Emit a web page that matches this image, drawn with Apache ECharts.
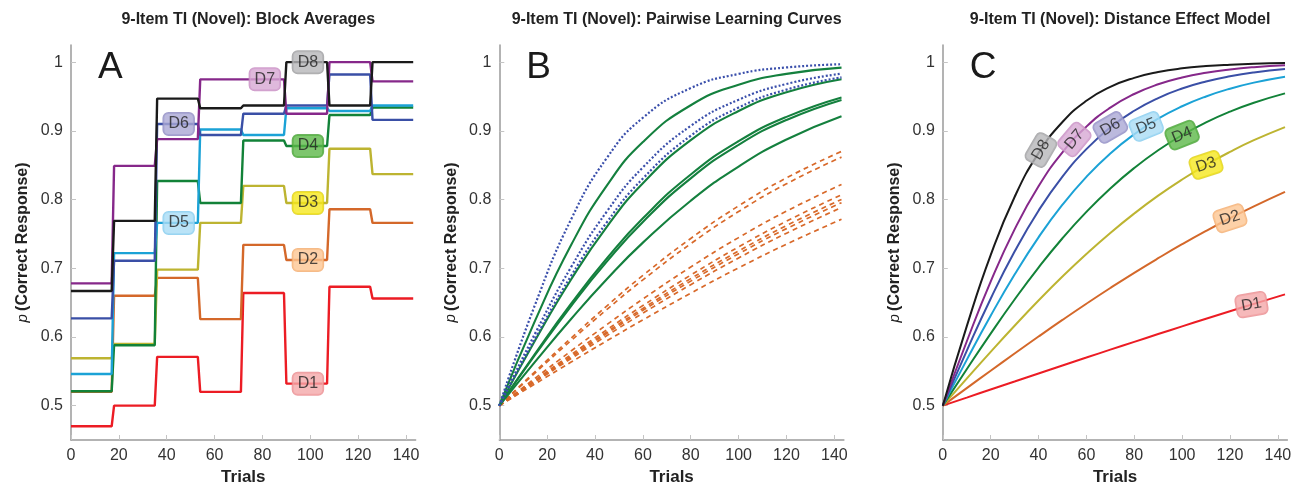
<!DOCTYPE html>
<html><head><meta charset="utf-8">
<script src="https://cdn.jsdelivr.net/npm/echarts@6/dist/echarts.min.js"></script>
<style>html,body{margin:0;padding:0;background:#fff}#c{width:1297px;height:493px}</style>
</head><body><div id="c"></div>
<script>
// ---------- DATA ----------
const panelTitles = ['9-Item TI (Novel): Block Averages','9-Item TI (Novel): Pairwise Learning Curves','9-Item TI (Novel): Distance Effect Model'];
const panelLetters = ['A','B','C'];
const distNames = ['D1','D2','D3','D4','D5','D6','D7','D8'];
const xTicks = [0,20,40,60,80,100,120,140];
const yTicks = [0.5,0.6,0.7,0.8,0.9,1];
const yTickLabels = ['0.5','0.6','0.7','0.8','0.9','1'];

// Panel A: block averages (blocks of 18 trials)
const blockStarts = [0,18,36,54,72,90,108,126];
const lastTrial = 143;
const blockD1 = [0.470,0.500,0.571,0.520,0.664,0.532,0.673,0.656];
const blockD2 = [0.520,0.660,0.686,0.626,0.734,0.712,0.786,0.766];
const blockD3 = [0.569,0.590,0.698,0.766,0.820,0.795,0.874,0.837];
const blockD4 = [0.521,0.588,0.827,0.795,0.886,0.878,0.923,0.934];
const blockD5 = [0.546,0.722,0.766,0.902,0.894,0.933,0.929,0.937];
const blockD6 = [0.627,0.711,0.910,0.894,0.925,0.937,0.982,0.916];
const blockD7 = [0.678,0.849,0.888,0.975,0.975,0.925,1.000,0.972];
const blockD8 = [0.667,0.769,0.947,0.933,0.937,1.000,0.937,1.000];
const labelTrialA = [99,99,99,99,45,45,81,99];
const labelValA   = [0.532,0.712,0.795,0.878,0.766,0.910,0.975,1.000];

// Panel B: pairwise learning curves
const trialsB = [0,15,30,45,60,80,100,120,143];
const pairBlue1 = [0.5,0.6474,0.7712,0.8609,0.9191,0.9623,0.9829,0.9923,0.9970];
const pairBlue2 = [0.5,0.6053,0.7016,0.7829,0.8468,0.9072,0.9453,0.9683,0.9833];
const pairBlue3 = [0.5,0.5981,0.6889,0.7672,0.8306,0.8929,0.9340,0.9601,0.9779];
const pairGreen1 = [0.5,0.6241,0.7338,0.8207,0.8837,0.9373,0.9671,0.9830,0.9921];
const pairGreen2 = [0.5,0.5952,0.6837,0.7607,0.8238,0.8865,0.9289,0.9562,0.9752];
const pairGreen3 = [0.5,0.5759,0.6484,0.7146,0.7728,0.8365,0.8850,0.9204,0.9487];
const pairGreen4 = [0.5,0.5741,0.6450,0.7100,0.7675,0.8309,0.8797,0.9159,0.9451];
const pairGreen5 = [0.5,0.5641,0.6262,0.6844,0.7373,0.7983,0.8481,0.8874,0.9212];
const pairOrange1 = [0.5,0.5497,0.5984,0.6453,0.6896,0.7434,0.7908,0.8315,0.8701];
const pairOrange2 = [0.5,0.5479,0.5948,0.6402,0.6831,0.7357,0.7825,0.8229,0.8618];
const pairOrange3 = [0.5,0.5400,0.5796,0.6181,0.6552,0.7018,0.7446,0.7831,0.8220];
const pairOrange4 = [0.5,0.5374,0.5744,0.6106,0.6457,0.6900,0.7311,0.7685,0.8069];
const pairOrange5 = [0.5,0.5363,0.5722,0.6074,0.6415,0.6849,0.7251,0.7621,0.8002];
const pairOrange6 = [0.5,0.5356,0.5708,0.6053,0.6388,0.6813,0.7211,0.7577,0.7955];
const pairOrange7 = [0.5,0.5345,0.5686,0.6020,0.6346,0.6761,0.7150,0.7510,0.7884];
const pairOrange8 = [0.5,0.5318,0.5634,0.5945,0.6248,0.6637,0.7006,0.7350,0.7713];

// Panel C: distance effect model
const trialsC = [0,10,20,30,40,50,60,70,80,90,100,110,120,130,143];
const modelD1 = [0.5,0.5117,0.5235,0.5352,0.5469,0.5585,0.5700,0.5815,0.5929,0.6042,0.6154,0.6265,0.6374,0.6482,0.6620];
const modelD2 = [0.5,0.5255,0.5508,0.5759,0.6006,0.6248,0.6484,0.6713,0.6934,0.7146,0.7350,0.7544,0.7728,0.7902,0.8113];
const modelD3 = [0.5,0.5394,0.5783,0.6163,0.6530,0.6879,0.7207,0.7514,0.7797,0.8057,0.8292,0.8504,0.8694,0.8864,0.9055];
const modelD4 = [0.5,0.5530,0.6049,0.6545,0.7010,0.7437,0.7821,0.8162,0.8460,0.8718,0.8938,0.9124,0.9280,0.9410,0.9546];
const modelD5 = [0.5,0.5666,0.6309,0.6908,0.7450,0.7925,0.8331,0.8672,0.8951,0.9178,0.9358,0.9501,0.9614,0.9702,0.9788];
const modelD6 = [0.5,0.5798,0.6557,0.7243,0.7838,0.8334,0.8734,0.9050,0.9293,0.9478,0.9616,0.9718,0.9794,0.9850,0.9901];
const modelD7 = [0.5,0.5934,0.6805,0.7566,0.8193,0.8687,0.9062,0.9338,0.9537,0.9678,0.9777,0.9846,0.9894,0.9927,0.9955];
const modelD8 = [0.5,0.6154,0.7191,0.8038,0.8676,0.9129,0.9438,0.9641,0.9772,0.9856,0.9910,0.9943,0.9964,0.9978,0.9988];
const labelTrialC = [129,120,110,100,85,70,55,41];
const labelRotC = [10,18,18,22,22,30,50,60];

// ---------- STYLE ----------
const lineColors = ['#ec1c24','#d4682a','#bdb431','#128238','#1ba2d6','#3a4fa6','#86288a','#1a1a1a'];
const labelFill = ['#f4a7a9','#fcc692','#f5e71f','#5cb849','#a9dcf5','#aaa7d5','#d7a7d3','#b7b7b9'];
const labelBorder = ['#e88a8d','#f2aa6c','#dccd12','#47a036','#80c9ee','#8b87c0','#c58ac0','#9a9a9c'];
const blueC = '#3a4fab', greenC = '#14803e', orangeC = '#d8692a';

const blocksA = [blockD1,blockD2,blockD3,blockD4,blockD5,blockD6,blockD7,blockD8];
const modelsC = [modelD1,modelD2,modelD3,modelD4,modelD5,modelD6,modelD7,modelD8];
const blueB = [pairBlue1,pairBlue2,pairBlue3];
const greenB = [pairGreen1,pairGreen2,pairGreen3,pairGreen4,pairGreen5];
const orangeB = [pairOrange1,pairOrange2,pairOrange3,pairOrange4,pairOrange5,pairOrange6,pairOrange7,pairOrange8];

const FONT = 'Liberation Sans, Arial, Helvetica, sans-serif';
const gridLefts = [71, 499.3, 942.8];
const GW = 344.6, GT = 45, GH = 395;

function stepPoints(vals){
  const pts = [];
  for (let i=0;i<vals.length;i++){
    const s = blockStarts[i];
    const e = i < vals.length-1 ? blockStarts[i+1]-1 : lastTrial;
    pts.push([s, vals[i]], [e, vals[i]]);
  }
  return pts;
}
function zip(xs, ys){ return xs.map((x,i)=>[x, ys[i]]); }

const grids = [], xAxes = [], yAxes = [], series = [], titles = [];
for (let p=0;p<3;p++){
  grids.push({left:gridLefts[p], top:GT, width:GW, height:GH});
  xAxes.push({
    type:'value', gridIndex:p, min:0, max:144,
    name:'Trials', nameLocation:'middle', nameGap:27,
    nameTextStyle:{fontFamily:FONT, fontWeight:'bold', fontSize:17, color:'#222'},
    axisLine:{lineStyle:{color:'#9a9a9a', width:1.5}},
    axisTick:{inside:true, length:5, lineStyle:{color:'#c4c4c4', width:1}, customValues:xTicks},
    axisLabel:{customValues:xTicks, fontFamily:FONT, fontSize:16, color:'#333', margin:8},
    splitLine:{show:false}
  });
  yAxes.push({
    type:'value', gridIndex:p, min:0.45, max:1.025,
    name:'{it|p} {b|(Correct Response)}', nameLocation:'middle', nameGap:40, nameRotate:90,
    nameTextStyle:{rich:{
      it:{fontFamily:FONT, fontStyle:'italic', fontSize:15, color:'#222'},
      b:{fontFamily:FONT, fontWeight:'bold', fontSize:16, color:'#222'}
    }},
    axisLine:{show:true, lineStyle:{color:'#9a9a9a', width:1.5}},
    axisTick:{show:true, inside:true, length:5, lineStyle:{color:'#c4c4c4', width:1}, customValues:yTicks},
    axisLabel:{customValues:yTicks, fontFamily:FONT, fontSize:16, color:'#333', margin:8,
      formatter:(v)=>{const i=yTicks.findIndex(t=>Math.abs(t-v)<1e-6); return i>=0?yTickLabels[i]:'';}},
    splitLine:{show:false}
  });
  titles.push({text:panelTitles[p], left:gridLefts[p]+GW/2, top:7, textAlign:'center',
    textStyle:{fontFamily:FONT, fontWeight:'bold', fontSize:16, color:'#222'}});
  titles.push({text:panelLetters[p], left:gridLefts[p]+22, top:44,
    textStyle:{fontFamily:FONT, fontWeight:'normal', fontSize:37, color:'#1a1a1a'}});
}

// Panel A series
blocksA.forEach((vals,i)=>{
  series.push({type:'line', xAxisIndex:0, yAxisIndex:0, data:stepPoints(vals), showSymbol:false, symbol:'none',
    lineStyle:{color:lineColors[i], width:2.4}, silent:true, animation:false, z:2});
});
function labelItem(i, x, y, rot){
  return {value:[x,y], name:distNames[i], label:{
    show:true, position:'inside', formatter:'{b}', rotate:rot||0,
    fontFamily:FONT, fontSize:16, color:'#222', lineHeight:17,
    backgroundColor:labelFill[i], borderColor:labelBorder[i], borderWidth:1, borderRadius:5,
    padding:[3,5,2,5]
  }};
}
series.push({type:'scatter', xAxisIndex:0, yAxisIndex:0, symbolSize:0, silent:true, animation:false, z:10,
  data: distNames.map((n,i)=>labelItem(i, labelTrialA[i], labelValA[i], 0))});

// Panel B series
const SM = 0.5;
orangeB.forEach(v=>series.push({type:'line', xAxisIndex:1, yAxisIndex:1, data:zip(trialsB,v), smooth:SM,
  showSymbol:false, symbol:'none', lineStyle:{color:orangeC, width:1.7, type:[5,4]}, silent:true, animation:false}));
greenB.forEach(v=>series.push({type:'line', xAxisIndex:1, yAxisIndex:1, data:zip(trialsB,v), smooth:SM,
  showSymbol:false, symbol:'none', lineStyle:{color:greenC, width:2.1}, silent:true, animation:false}));
blueB.forEach(v=>series.push({type:'line', xAxisIndex:1, yAxisIndex:1, data:zip(trialsB,v), smooth:SM,
  showSymbol:false, symbol:'none', lineStyle:{color:blueC, width:2.2, type:[2,2]}, silent:true, animation:false}));

// Panel C series
modelsC.forEach((v,i)=>series.push({type:'line', xAxisIndex:2, yAxisIndex:2, data:zip(trialsC,v), smooth:SM,
  showSymbol:false, symbol:'none', lineStyle:{color:lineColors[i], width:2}, silent:true, animation:false}));
series.push({type:'scatter', xAxisIndex:2, yAxisIndex:2, symbolSize:0, silent:true, animation:false, z:10,
  data: distNames.map((n,i)=>{
    const t = labelTrialC[i];
    const xs = trialsC, ys = modelsC[i];
    let y = ys[ys.length-1];
    for (let k=0;k<xs.length-1;k++){ if (t>=xs[k] && t<=xs[k+1]){ const f=(t-xs[k])/(xs[k+1]-xs[k]); y = ys[k]+f*(ys[k+1]-ys[k]); break; } }
    return labelItem(i, t, y, labelRotC[i]);
  })});

const chart = echarts.init(document.getElementById('c'), null, {renderer:'canvas'});
chart.setOption({animation:false, backgroundColor:'#fff', title:titles, grid:grids, xAxis:xAxes, yAxis:yAxes, series:series});
</script></body></html>
